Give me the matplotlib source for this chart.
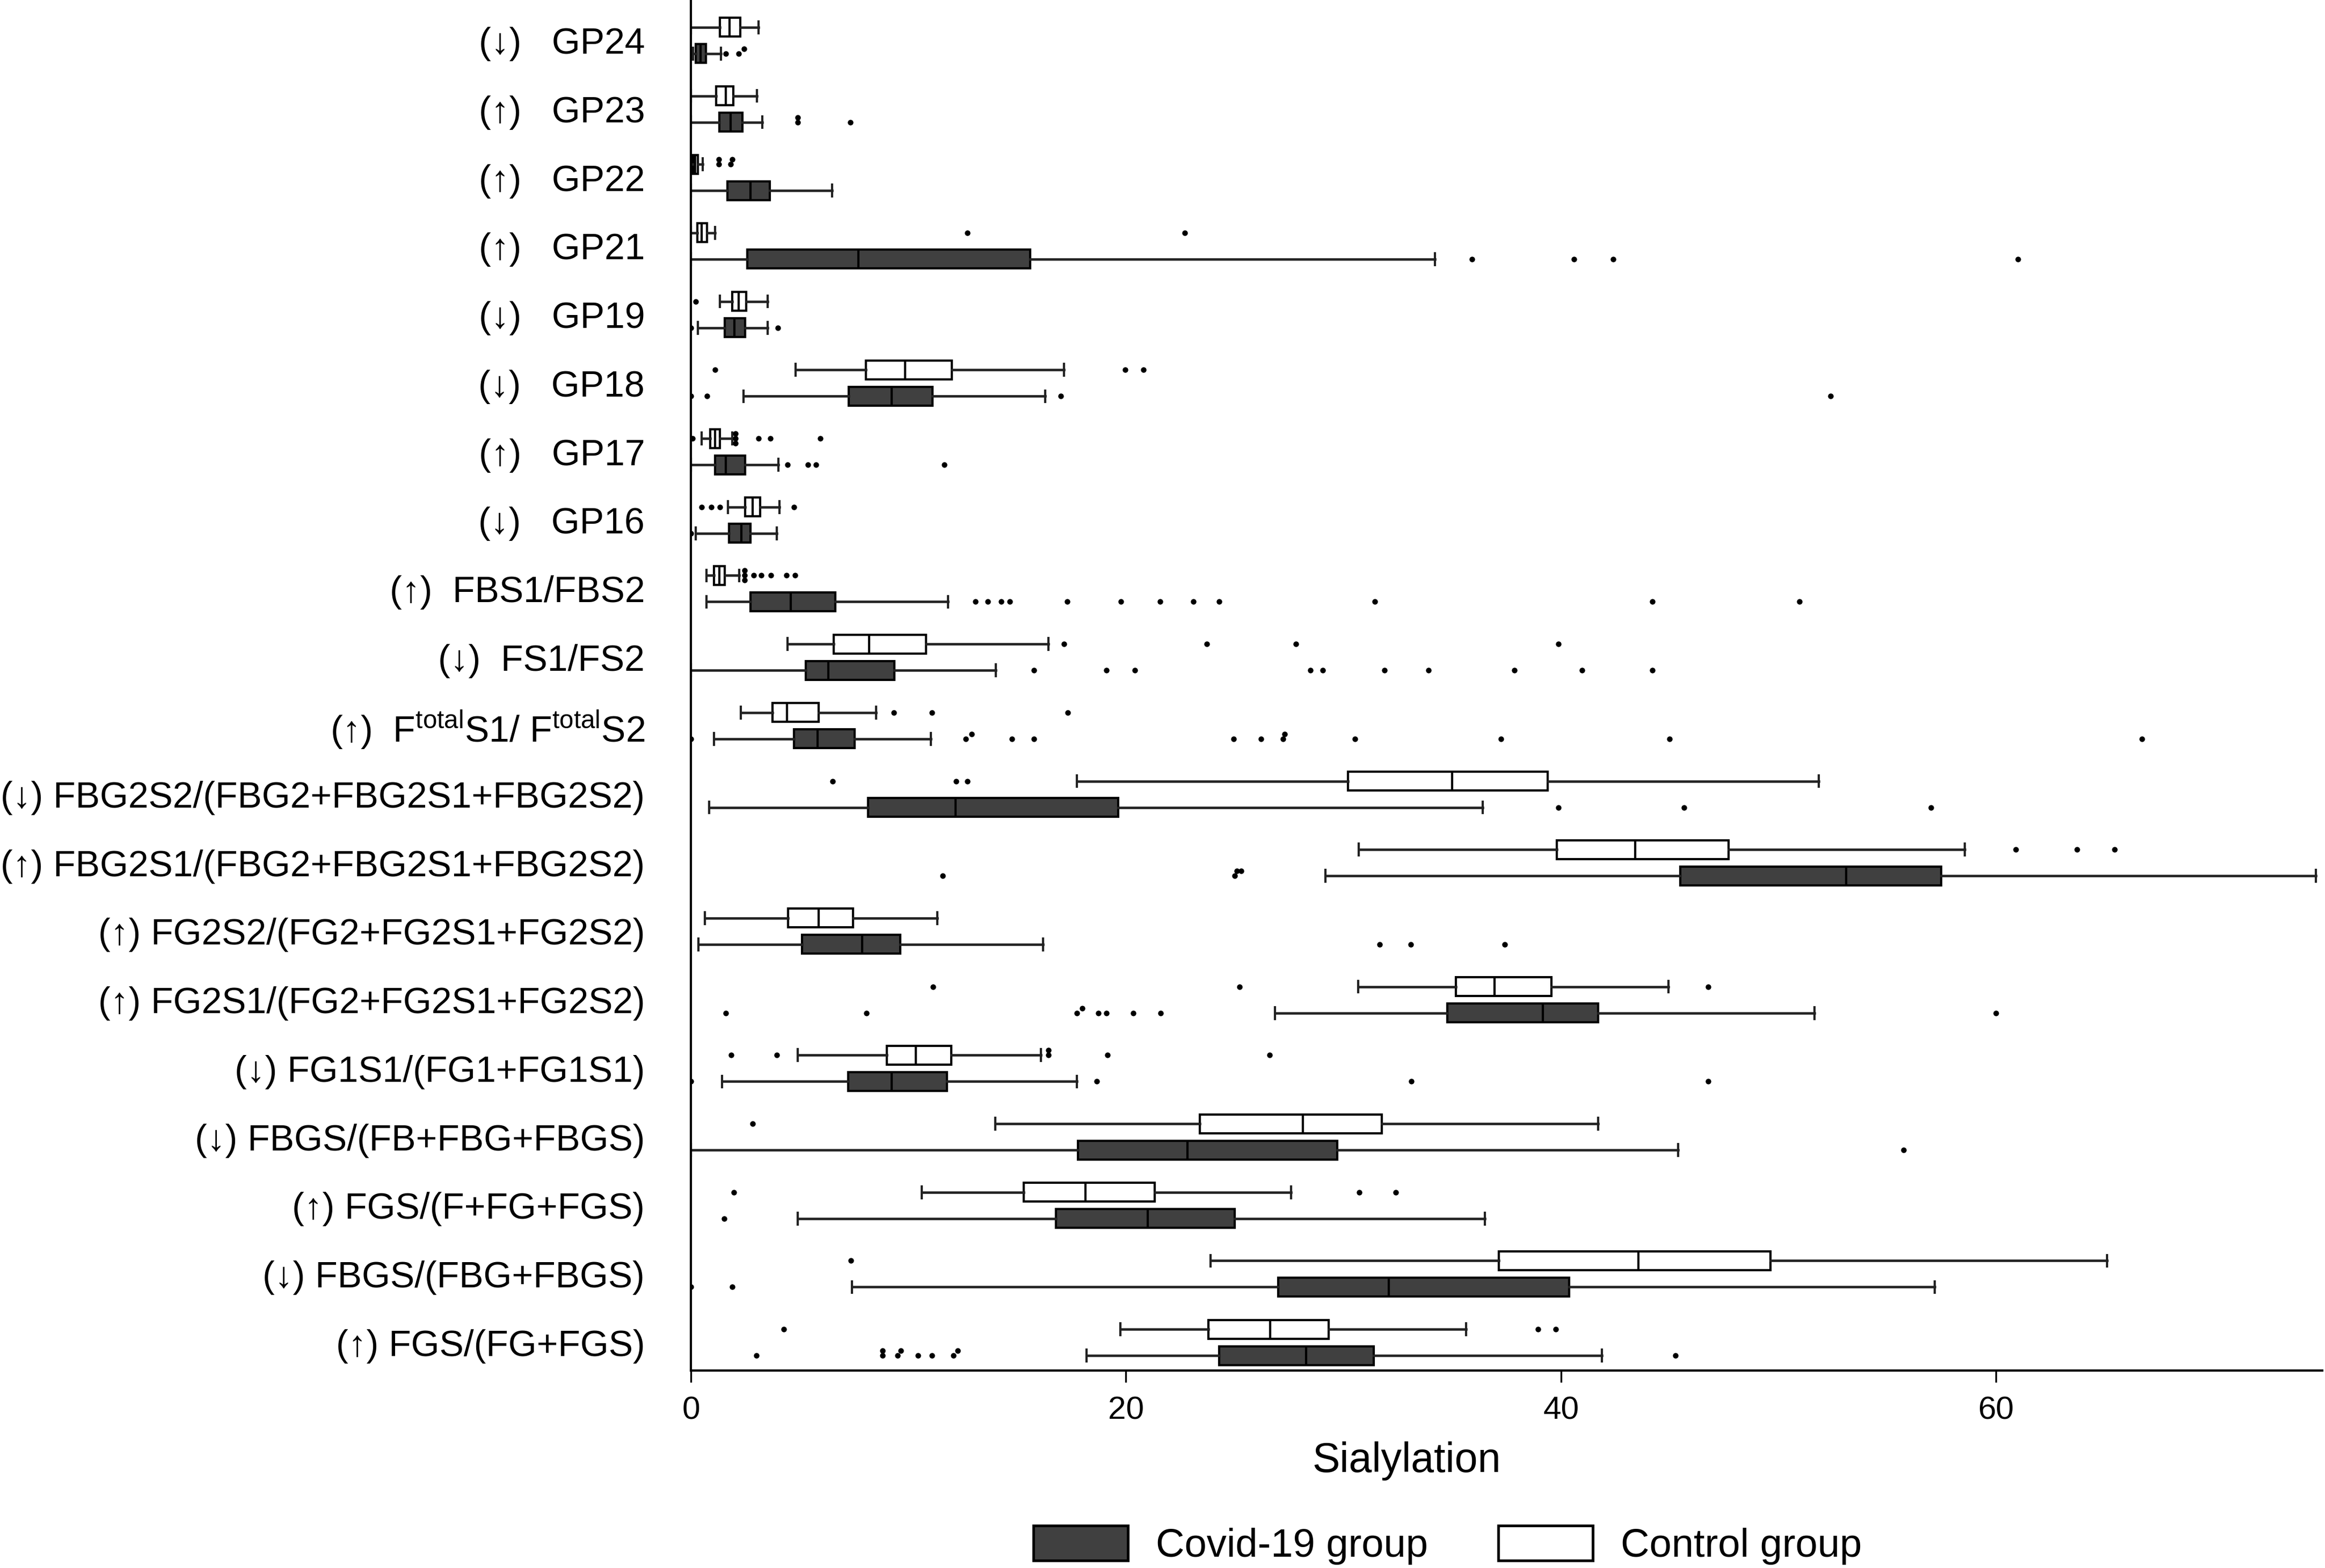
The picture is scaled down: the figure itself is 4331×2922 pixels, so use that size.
import matplotlib
matplotlib.use('Agg')
import matplotlib.pyplot as plt
from matplotlib.patches import Patch
import numpy as np

plt.rcParams['font.family'] = ['Liberation Sans', 'DejaVu Sans']
plt.rcParams['mathtext.fontset'] = 'custom'
plt.rcParams['mathtext.rm'] = 'Liberation Sans'
plt.rcParams['mathtext.it'] = 'Liberation Sans:italic'
plt.rcParams['mathtext.bf'] = 'Liberation Sans:bold'

# categories, top to bottom
names = ['GP24', 'GP23', 'GP22', 'GP21', 'GP19', 'GP18', 'GP17', 'GP16',
         'FBS1/FBS2', 'FS1/FS2', 'F$^{\\mathrm{total}}$S1/ F$^{\\mathrm{total}}$S2',
         'FBG2S2/(FBG2+FBG2S1+FBG2S2)', 'FBG2S1/(FBG2+FBG2S1+FBG2S2)',
         'FG2S2/(FG2+FG2S1+FG2S2)', 'FG2S1/(FG2+FG2S1+FG2S2)',
         'FG1S1/(FG1+FG1S1)', 'FBGS/(FB+FBG+FBGS)', 'FGS/(F+FG+FGS)',
         'FBGS/(FBG+FBGS)', 'FGS/(FG+FGS)']
trend = ['down', 'up', 'up', 'up', 'down', 'down', 'up', 'down',
         'up', 'down', 'up', 'down', 'up', 'up', 'up', 'down', 'down', 'up', 'down', 'up']

# control group box stats
ctrl_lo  = [0, 0, 0, 0, 1.34, 4.82, 0.5, 1.7, 0.71, 4.44, 2.29, 17.75, 30.69, 0.63, 30.67, 4.9, 14.0, 10.6, 23.89, 19.75]
ctrl_q1  = [1.34, 1.17, 0.09, 0.29, 1.89, 8.04, 0.88, 2.49, 1.05, 6.56, 3.75, 30.2, 39.8, 4.46, 35.18, 9.0, 23.4, 15.29, 37.13, 23.8]
ctrl_med = [1.78, 1.6, 0.2, 0.5, 2.2, 9.85, 1.1, 2.84, 1.32, 8.19, 4.41, 35.0, 43.42, 5.88, 36.94, 10.34, 28.13, 18.14, 43.56, 26.62]
ctrl_q3  = [2.27, 1.94, 0.33, 0.73, 2.53, 12.0, 1.34, 3.19, 1.56, 10.8, 5.88, 39.39, 47.71, 7.46, 39.56, 11.97, 31.77, 21.33, 49.63, 29.33]
ctrl_hi  = [3.1, 3.04, 0.55, 1.12, 3.52, 17.16, 1.9, 4.07, 2.22, 16.43, 8.51, 51.85, 58.56, 11.34, 44.93, 16.09, 41.7, 27.6, 65.1, 35.64]
ctrl_out = [[], [], [1.28, 1.28, 1.83, 1.9], [12.7, 22.7], [0.22],
            [1.1, 19.96, 20.8], [0.07, 2.05, 2.05, 2.05, 3.1, 3.66, 5.95],
            [0.5, 0.95, 1.34, 4.73],
            [2.46, 2.46, 2.46, 2.88, 3.24, 3.68, 4.39, 4.78],
            [17.14, 23.72, 27.82, 39.88], [9.34, 11.09, 17.33],
            [6.51, 12.19, 12.7], [60.9, 63.73, 65.46], [],
            [11.12, 25.21, 46.76], [1.85, 3.95, 16.43, 16.43, 19.14, 26.6],
            [2.85], [1.97, 30.72, 32.4], [7.36], [4.27, 38.95, 39.76]]

# covid-19 group box stats
cov_lo  = [0.1, 0, 0, 0, 0.33, 2.42, 0, 0.22, 0.71, 0, 1.05, 0.83, 29.18, 0.34, 26.84, 1.44, 0, 4.92, 7.41, 18.19]
cov_q1  = [0.22, 1.32, 1.67, 2.6, 1.56, 7.25, 1.12, 1.74, 2.75, 5.27, 4.75, 8.14, 45.49, 5.12, 34.77, 7.22, 17.8, 16.77, 26.99, 24.28]
cov_med = [0.44, 1.83, 2.75, 7.7, 2.0, 9.23, 1.6, 2.33, 4.58, 6.31, 5.83, 12.17, 53.1, 7.88, 39.17, 9.24, 22.84, 20.99, 32.08, 28.28]
cov_q3  = [0.68, 2.38, 3.63, 15.6, 2.49, 11.1, 2.49, 2.75, 6.63, 9.36, 7.53, 19.65, 57.49, 9.63, 41.71, 11.78, 29.72, 24.99, 40.37, 31.4]
cov_hi  = [1.39, 3.28, 6.5, 34.2, 3.52, 16.3, 4.03, 3.96, 11.82, 14.02, 11.02, 36.4, 74.7, 16.19, 51.66, 17.75, 45.39, 36.5, 57.17, 41.88]
cov_out = [[1.6, 2.2, 2.45], [4.9, 4.9, 7.33], [], [35.9, 40.6, 42.4, 61.0],
           [0.0, 4.0], [0.0, 0.73, 17.0, 52.4], [4.43, 5.37, 5.75, 11.65], [0.0],
           [13.07, 13.65, 14.26, 14.65, 17.31, 19.77, 21.58, 23.11, 24.28, 31.45, 44.2, 50.97],
           [15.77, 19.11, 20.41, 28.48, 29.04, 31.89, 33.91, 37.87, 40.97, 44.19],
           [0.0, 12.63, 12.9, 14.75, 15.77, 24.94, 26.21, 27.21, 27.3, 30.52, 37.25, 45.0, 66.7],
           [39.88, 45.66, 57.0], [11.58, 24.99, 25.1, 25.3], [31.67, 33.1, 37.42],
           [1.61, 8.07, 17.75, 17.99, 18.72, 19.09, 20.33, 21.6, 60.0],
           [0.0, 18.65, 33.13, 46.76], [55.76], [1.54], [0.0, 1.9],
           [3.0, 8.8, 8.8, 9.5, 9.65, 10.43, 11.09, 12.07, 12.26, 45.27]]

covid_color = '#404040'
n = len(names)
ypos = np.arange(n)
off = 0.192
bw = 0.274

fig = plt.figure(figsize=(4331 / 300, 2922 / 300), dpi=300)
ax = fig.add_axes([1287 / 4331, 368 / 2922, 3039 / 4331, 2554 / 2922])


def stats(lo, q1, med, q3, hi):
    return [dict(whislo=a, q1=b, med=c, q3=d, whishi=e, fliers=[])
            for a, b, c, d, e in zip(lo, q1, med, q3, hi)]


def draw(st, pos, face):
    ax.bxp(st, positions=pos, widths=bw, orientation='horizontal',
           patch_artist=True, showfliers=False, capwidths=0.17,
           boxprops=dict(facecolor=face, edgecolor='black', linewidth=1.0),
           whiskerprops=dict(color='#222222', linewidth=1.1),
           capprops=dict(color='#222222', linewidth=1.0),
           medianprops=dict(color='black', linewidth=1.0))


def draw_out(outs, pos):
    # tied outliers get stacked a little, like the original software does
    jit = [0, -0.07, 0.07, -0.14]
    for vals, p in zip(outs, pos):
        xs, ys = [], []
        for i, v in enumerate(vals):
            k = sum(1 for u in vals[:i] if abs(u - v) < 0.3)
            xs.append(v)
            ys.append(p + jit[min(k, 3)])
        ax.plot(xs, ys, 'o', ms=2.5, color='black', mec='black', mew=0)


draw(stats(ctrl_lo, ctrl_q1, ctrl_med, ctrl_q3, ctrl_hi), ypos - off, 'white')
draw(stats(cov_lo, cov_q1, cov_med, cov_q3, cov_hi), ypos + off, covid_color)
draw_out(ctrl_out, ypos - off)
draw_out(cov_out, ypos + off)

gap = [3] * 8 + [2, 2, 2] + [1] * 9
labels = ['(' + ('\u2191' if t == 'up' else '\u2193') + ')' + ' ' * g + nm
          for t, g, nm in zip(trend, gap, names)]
ax.set_yticks(ypos)
ax.set_yticklabels(labels)
ax.set_ylim(19.41, -0.59)
ax.set_xlim(0, 75)
ax.set_xticks([0, 20, 40, 60])

for s in ['top', 'right']:
    ax.spines[s].set_visible(False)
for s in ['left', 'bottom']:
    ax.spines[s].set_linewidth(1.0)
ax.tick_params(axis='y', length=0, pad=20.6, labelsize=16.3)
ax.tick_params(axis='x', length=5.3, width=0.8, pad=6.2, labelsize=14.5)

ax.set_xlabel('Sialylation', fontsize=18.5)
ax.xaxis.label.set_va('center')
ax.xaxis.set_label_coords(0.4386, -0.0658)

handles = [Patch(facecolor=covid_color, edgecolor='black', linewidth=1.2, label='Covid-19 group'),
           Patch(facecolor='white', edgecolor='black', linewidth=1.2, label='Control group')]
fig.legend(handles=handles, loc='center', bbox_to_anchor=(0.6227, 0.0145), ncol=2,
           frameon=False, fontsize=17.8, handlelength=2.37, handleheight=0.98,
           handletextpad=0.7, columnspacing=1.77)

fig.savefig('out.png', dpi=300)
